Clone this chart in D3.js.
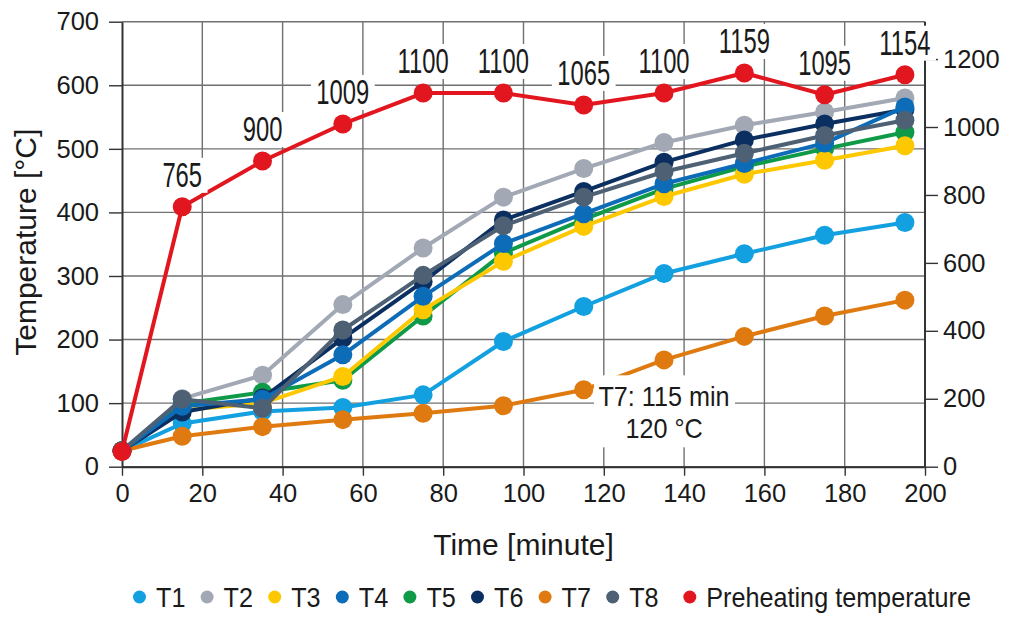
<!DOCTYPE html>
<html><head><meta charset="utf-8">
<script src="https://cdn.jsdelivr.net/npm/d3@7"></script>
<style>
body{margin:0;background:#fff}
svg{display:block}
text{font-family:"Liberation Sans",Arial,sans-serif;fill:#1a1a1a}
</style>
</head><body>
<svg id="c" width="1024" height="631"></svg>
<script>
// ---- data ----
const times = [0, 15, 35, 55, 75, 95, 115, 135, 155, 175, 195];
const T1 = [25, 68, 87, 93, 113, 197, 252, 304, 335, 364, 384];
const T2 = [25, 107, 144, 255, 344, 424, 469, 510, 537, 558, 580];
const T3 = [25, 89, 100, 142, 247, 323, 378, 425, 460, 482, 505];
const T4 = [25, 95, 106, 176, 268, 351, 398, 445, 477, 509, 566];
const T5 = [25, 99, 117, 136, 237, 336, 389, 437, 472, 500, 526];
const T6 = [25, 86, 108, 202, 291, 388, 433, 479, 514, 539, 562];
const T7 = [25, 48, 63, 74, 84, 96, 121, 168, 205, 237, 262];
const T8 = [25, 106, 92, 215, 301, 379, 424, 464, 493, 521, 545];
const preheat = [45, 765, 900, 1009, 1100, 1100, 1065, 1100, 1159, 1095, 1154];
const preheatLabels = ["", "765", "900", "1009", "1100", "1100", "1065", "1100", "1159", "1095", "1154"];
const seriesNames = ["T1", "T2", "T3", "T4", "T5", "T6", "T7", "T8"];
const seriesValues = [T1, T2, T3, T4, T5, T6, T7, T8];
const seriesColors = ["#12a0e0", "#a2a9b4", "#fdc800", "#0d6cb8", "#0f9a47", "#0b2f60", "#df7a10", "#4e6174"];
const preheatName = "Preheating temperature";
const preheatColor = "#e2161f";
const drawOrder = ["T1", "T2", "T7", "T5", "T3", "T6", "T4", "T8"];
const xTicks = [0, 20, 40, 60, 80, 100, 120, 140, 160, 180, 200];
const yTicks = [0, 100, 200, 300, 400, 500, 600, 700];
const y2Ticks = [0, 200, 400, 600, 800, 1000, 1200];
const annotLines = ["T7: 115 min", "120 °C"];
const xTitle = "Time [minute]";
const yTitle = "Temperature [°C]";

// ---- layout ----
const svg = d3.select("#c");
const L = 122, R = 925, T = 21.7, B = 466.7;
const x = d3.scaleLinear().domain([0, 200]).range([L, R]);
const y = d3.scaleLinear().domain([0, 700]).range([B, T]);
const y2 = d3.scaleLinear().domain([0, 1310]).range([B, T]);

const gridColor = "#707070", axisColor = "#333";

// grid
const grid = svg.append("g");
grid.selectAll("line.h").data(yTicks).join("line")
  .attr("x1", L).attr("x2", R).attr("y1", d => y(d)).attr("y2", d => y(d))
  .attr("stroke", gridColor).attr("stroke-width", 1.4);
grid.selectAll("line.v").data(xTicks.filter(d => d > 0 && d < 200)).join("line")
  .attr("x1", d => x(d)).attr("x2", d => x(d)).attr("y1", T).attr("y2", B)
  .attr("stroke", gridColor).attr("stroke-width", 1.4);

// axes
function styleAxis(g) {
  g.select(".domain").attr("stroke", axisColor).attr("stroke-width", 2);
  g.selectAll(".tick line").attr("stroke", axisColor).attr("stroke-width", 1.4);
  g.selectAll(".tick text").attr("font-size", 25.5).attr("fill", "#1a1a1a")
    .attr("font-family", '"Liberation Sans",Arial,sans-serif');
}
svg.append("g").attr("transform", `translate(${L},0)`)
  .call(d3.axisLeft(y).tickValues(yTicks).tickSize(13).tickSizeOuter(0).tickPadding(10))
  .call(styleAxis);
svg.append("g").attr("transform", `translate(${R},0)`)
  .call(d3.axisRight(y2).tickValues(y2Ticks).tickFormat(d3.format("d")).tickSize(13).tickSizeOuter(0).tickPadding(5))
  .call(styleAxis)
  .call(g => g.select(".domain").attr("d", `M0,${B}V${T}`));
svg.append("g").attr("transform", `translate(0,${B})`)
  .call(d3.axisBottom(x).tickValues(xTicks).tickSize(9).tickSizeOuter(0).tickPadding(8))
  .call(styleAxis);

// titles
svg.append("text").attr("x", (L + R) / 2).attr("y", 555).attr("text-anchor", "middle")
  .attr("font-size", 30).text(xTitle);
svg.append("text").attr("transform", `translate(36,${(y(0) + y(700)) / 2 - 2}) rotate(-90)`)
  .attr("text-anchor", "middle").attr("font-size", 30).text(yTitle);

// series
const line = d3.line().x((d, i) => x(times[i])).y(d => y(d));
const plot = svg.append("g");
drawOrder.forEach(name => {
  const k = seriesNames.indexOf(name);
  const vals = seriesValues[k], col = seriesColors[k];
  const g = plot.append("g");
  g.append("path").datum(vals).attr("d", line).attr("fill", "none")
    .attr("stroke", col).attr("stroke-width", 4).attr("stroke-linejoin", "round");
  g.selectAll("circle").data(vals).join("circle")
    .attr("cx", (d, i) => x(times[i])).attr("cy", d => y(d)).attr("r", 9.5).attr("fill", col);
});

// preheating (right axis)
const line2 = d3.line().x((d, i) => x(times[i])).y(d => y2(d));
const pg = svg.append("g");
pg.append("path").datum(preheat).attr("d", line2).attr("fill", "none")
  .attr("stroke", preheatColor).attr("stroke-width", 4).attr("stroke-linejoin", "round");
pg.selectAll("circle").data(preheat).join("circle")
  .attr("cx", (d, i) => x(times[i])).attr("cy", d => y2(d)).attr("r", 9.5).attr("fill", preheatColor);

// value labels with white boxes
const lab = svg.append("g");
preheat.forEach((v, i) => {
  if (!preheatLabels[i]) return;
  const g = lab.append("g")
    .attr("transform", `translate(${x(times[i])},${y2(v) - 20}) scale(0.68,1)`);
  const r = g.append("rect").attr("fill", "#fff");
  const t = g.append("text").attr("text-anchor", "middle").attr("font-size", 35).text(preheatLabels[i]);
  const bb = t.node().getBBox();
  r.attr("x", bb.x - 8).attr("width", bb.width + 16).attr("y", -29).attr("height", 35);
});

// annotation for T7
const ag = svg.append("g");
const ax = x(135);
ag.append("rect").attr("x", ax - 70).attr("width", 141)
  .attr("y", y(95) - 31).attr("height", 72).attr("fill", "#fff");
annotLines.forEach((s, i) => {
  ag.append("text").attr("transform", `translate(${ax},${y(95) + i * 31.5}) scale(0.9,1)`)
    .attr("text-anchor", "middle").attr("font-size", 28).text(s);
});

// legend
const legendItems = seriesNames.map((n, i) => ({ name: n, color: seriesColors[i], extra: 0 }))
  .concat([{ name: preheatName, color: preheatColor, extra: 9.5 }]);
const lg = svg.append("g");
const ly = 597, step = 67.6;
let cx = 139.5;
legendItems.forEach((it, i) => {
  cx += it.extra;
  lg.append("circle").attr("cx", cx).attr("cy", ly).attr("r", 6.5).attr("fill", it.color);
  lg.append("text").attr("transform", `translate(${cx + 16.5},${ly + 10}) scale(0.9,1)`)
    .attr("font-size", 28).text(it.name);
  cx += step;
});
</script>
</body></html>
